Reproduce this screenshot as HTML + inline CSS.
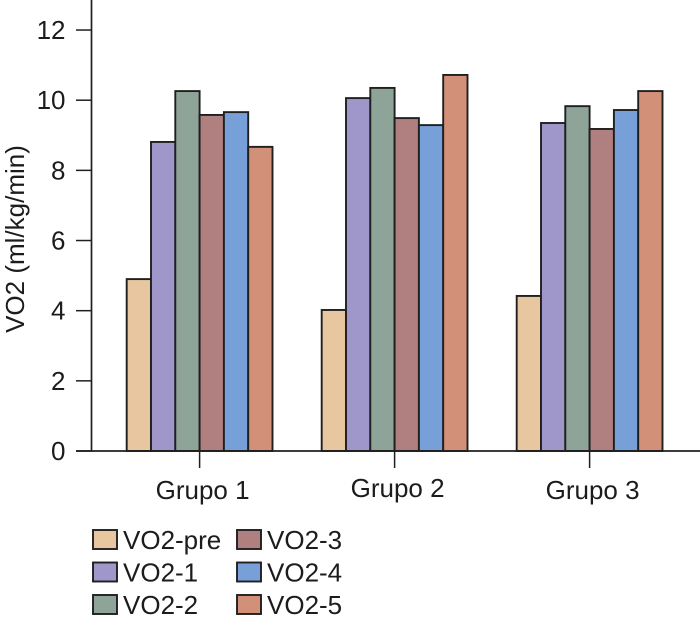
<!DOCTYPE html>
<html lang="pt">
<head>
<meta charset="utf-8">
<title>VO2 por grupo</title>
<style>
html,body{margin:0;padding:0;background:#fff;}
svg{display:block;}
text{font-family:"Liberation Sans",Arial,sans-serif;fill:#1c1c1c;}
</style>
</head>
<body>
<svg id="chart" xmlns="http://www.w3.org/2000/svg" width="700" height="623" viewBox="0 0 700 623"></svg>
<script>
const groups = ['Grupo 1', 'Grupo 2', 'Grupo 3'];
const seriesNames = ['VO2-pre', 'VO2-1', 'VO2-2', 'VO2-3', 'VO2-4', 'VO2-5'];
const vo2Pre = [4.90, 4.02, 4.42];
const vo2One = [8.81, 10.06, 9.35];
const vo2Two = [10.26, 10.35, 9.83];
const vo2Three = [9.58, 9.49, 9.18];
const vo2Four = [9.66, 9.29, 9.72];
const vo2Five = [8.67, 10.72, 10.26];
const yTicks = [0, 2, 4, 6, 8, 10, 12];
const seriesColors = ['#e8c6a0', '#9f97c9', '#8fa499', '#b07f80', '#77a0d8', '#d39079'];

const seriesValues = [vo2Pre, vo2One, vo2Two, vo2Three, vo2Four, vo2Five];
const svg = document.getElementById('chart');
const NS = 'http://www.w3.org/2000/svg';
const ink = '#1f1f1f';

function yScale(v) { return 451 - v * 35.08; }
function groupCenter(i) { return 199.6 + i * 195; }
function make(tag, attrs, text) {
  const el = document.createElementNS(NS, tag);
  for (const k in attrs) el.setAttribute(k, attrs[k]);
  if (text !== undefined) el.textContent = text;
  svg.appendChild(el);
  return el;
}

const barW = 24.3;
groups.forEach(function (g, gi) {
  seriesValues.forEach(function (vals, si) {
    const x = groupCenter(gi) + (si - 3) * barW;
    const y = yScale(vals[gi]);
    const bar = make('rect', { x: x, y: y, width: barW, height: yScale(0) - y, fill: seriesColors[si], stroke: ink, 'stroke-width': 1.9 });
    
    
  });
});

const yAxis = make('line', { x1: 91.5, x2: 91.5, y1: 0, y2: 451, stroke: ink, 'stroke-width': 1.7 });


const xAxis = make('line', { x1: 76, x2: 700, y1: 451, y2: 451, stroke: ink, 'stroke-width': 1.7 });



yTicks.forEach(function (t) {
  const y = yScale(t);
  const tick = make('line', { x1: 76, x2: 91.5, y1: y, y2: y, stroke: ink, 'stroke-width': 1.5 });
  
  
  const label = make('text', { x: 65.5, y: y + 9, 'text-anchor': 'end', 'font-size': 26 }, String(t));
  
  
});

groups.forEach(function (g, gi) {
  const cx = groupCenter(gi);
  const tick = make('line', { x1: cx, x2: cx, y1: 451, y2: 468, stroke: ink, 'stroke-width': 1.5 });
  
  
  const label = make('text', { x: cx + 3, y: gi === 1 ? 497 : 499, 'text-anchor': 'middle', 'font-size': 26 }, g);
  
  
});

const yTitle = make('text', { x: 0, y: 0, 'text-anchor': 'middle', 'font-size': 26, transform: 'translate(24 239) rotate(-90)' }, 'VO2 (ml/kg/min)');



seriesNames.forEach(function (name, si) {
  const col = si < 3 ? 0 : 1;
  const row = si % 3;
  const lx = col === 0 ? 93 : 237;
  const ly = 530 + row * 32.5;
  const swatch = make('rect', { x: lx, y: ly, width: 24, height: 19, fill: seriesColors[si], stroke: ink, 'stroke-width': 1.9 });
  
  
  const label = make('text', { x: lx + 30, y: ly + 19, 'font-size': 26 }, name);
  
  
});
</script>
</body>
</html>
